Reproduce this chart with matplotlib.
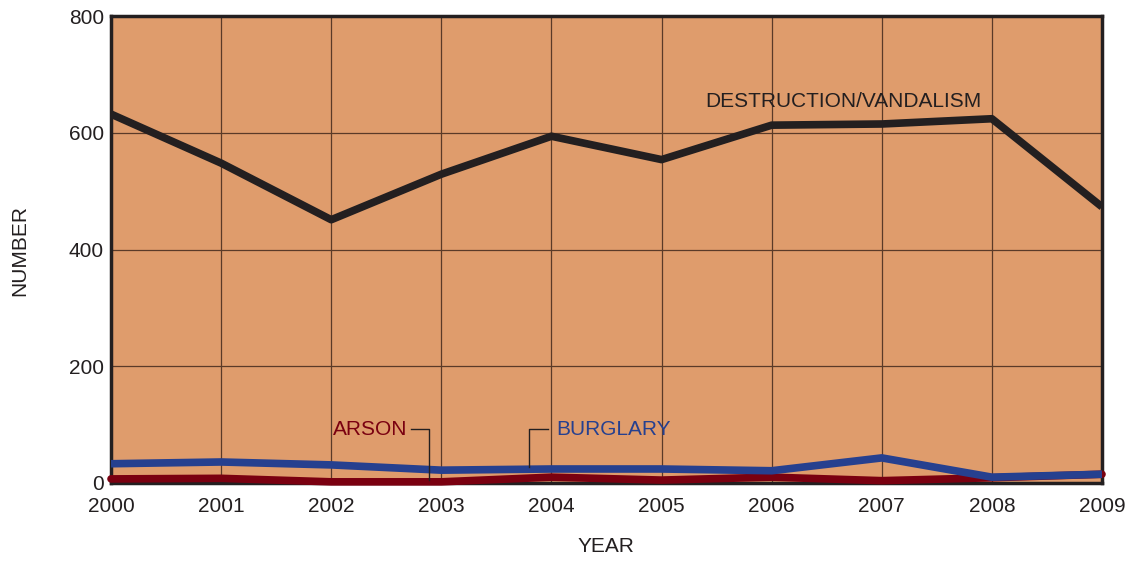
import numpy as np
import matplotlib.pyplot as plt

plt.rcParams['font.family'] = ['Liberation Sans', 'DejaVu Sans']

years = [2000, 2001, 2002, 2003, 2004, 2005, 2006, 2007, 2008, 2009]
vandalism = [632, 548, 451, 529, 594, 554, 613, 615, 624, 473]
burglary = [33, 36, 31, 22, 24, 24, 21, 43, 10, 15]
arson = [7, 8, 2, 2, 10, 5, 10, 4, 9, 15]

bg = '#df9c6c'
c_vand = '#231f20'
c_burg = '#26408f'
c_arson = '#7a0010'
fs = 15

fig = plt.figure(figsize=(11.26, 5.61), dpi=100)
ax = fig.add_axes([111 / 1126, 1 - 483 / 561, (1102 - 111) / 1126, (483 - 16) / 561])
ax.set_facecolor(bg)

ax.plot(years, arson, color=c_arson, lw=5.5, solid_capstyle='round', zorder=3, clip_on=False)
ax.plot(years, burglary, color=c_burg, lw=5.5, solid_capstyle='butt', zorder=4)
ax.plot(years, vandalism, color=c_vand, lw=5.5, solid_capstyle='butt', zorder=5)

ax.set_xlim(2000, 2009)
ax.set_ylim(0, 800)
ax.set_xticks(years)
ax.set_yticks([0, 200, 400, 600, 800])
ax.grid(True, color='#5a3a28', lw=0.9, zorder=1)
ax.set_axisbelow(True)
ax.tick_params(length=0, labelsize=fs, colors='#231f20', pad=5)
ax.tick_params(axis='x', pad=10)
for s in ax.spines.values():
    s.set_linewidth(2.5)
    s.set_color('#231f20')

ax.set_xlabel('YEAR', fontsize=fs, color='#231f20', va='center')
ax.set_ylabel('NUMBER', fontsize=fs, color='#231f20', va='center')
ax.xaxis.set_label_coords(0.5 - 1 / 991, (483 - 547) / 467)
ax.yaxis.set_label_coords((20 - 111) / 991, 0.5 - 1 / 467)

# series labels with leader lines
ax.text(2006.65, 654, 'DESTRUCTION/VANDALISM', fontsize=fs, color=c_vand,
        ha='center', va='center')
ax.text(2002.69, 91, 'ARSON', fontsize=fs, color=c_arson, ha='right', va='center')
ax.plot([2002.72, 2002.89, 2002.89], [92, 92, 5], color='#231f20', lw=1, zorder=6)
ax.text(2004.04, 92, 'BURGLARY', fontsize=fs, color=c_burg, ha='left', va='center')
ax.plot([2003.97, 2003.80, 2003.80], [92, 92, 27], color='#231f20', lw=1, zorder=6)

fig.savefig('out.png', dpi=100)
